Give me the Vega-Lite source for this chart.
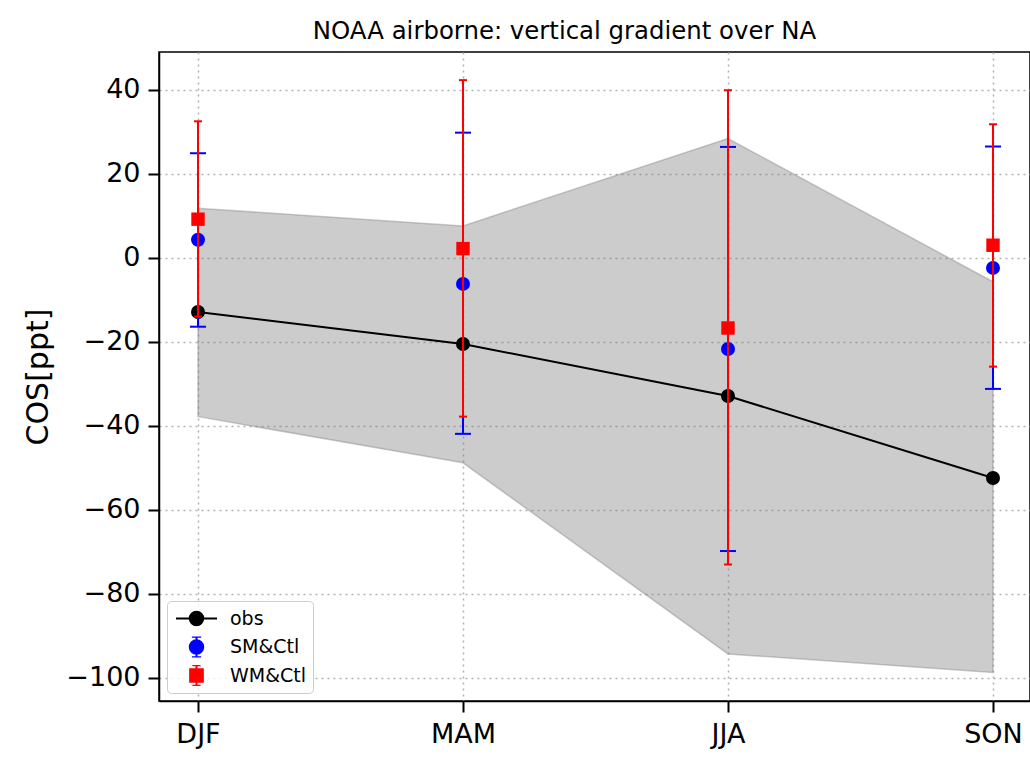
{
  "$schema": "https://vega.github.io/schema/vega-lite/v6.json",
  "width": 871,
  "height": 649,
  "autosize": {"type": "none"},
  "padding": {"left": 159, "top": 52, "right": 0, "bottom": 57},
  "background": "white",
  "title": {"text": "NOAA airborne: vertical gradient over NA", "fontSize": 24.4, "fontWeight": "normal", "color": "black", "dx": -30, "offset": 8},
  "config": {
    "font": "DejaVu Sans",
    "view": {"stroke": "black", "strokeWidth": 1.5},
    "axis": {"labelFontSize": 27, "labelColor": "black", "tickColor": "black", "tickSize": 11, "tickWidth": 2, "domainColor": "black", "domainWidth": 1.5, "gridColor": "#b0b0b0", "gridDash": [2, 4], "gridWidth": 1.5, "labelPadding": 8, "titleFontWeight": "normal", "titleColor": "black"},
    "legend": {"orient": "bottom-left", "offset": 8, "padding": 7, "fillColor": "rgba(255,255,255,0.8)", "strokeColor": "#cccccc", "cornerRadius": 4, "labelFontSize": 19, "labelColor": "black", "symbolSize": 420, "rowPadding": 7.5, "clipHeight": 21, "symbolOffset": 11, "labelOffset": 22, "symbolStrokeWidth": 2, "symbolOpacity": 1}
  },
  "datasets": {
    "band": [
      {"season": "DJF", "lo": -37.8, "hi": 11.8},
      {"season": "MAM", "lo": -48.8, "hi": 7.6},
      {"season": "JJA", "lo": -94.3, "hi": 28.4},
      {"season": "SON", "lo": -98.7, "hi": -5.7}
    ],
    "pts": [
      {"season": "DJF", "series": "obs", "v": -12.9},
      {"season": "MAM", "series": "obs", "v": -20.5},
      {"season": "JJA", "series": "obs", "v": -32.9},
      {"season": "SON", "series": "obs", "v": -52.4},
      {"season": "DJF", "series": "SM&Ctl", "v": 4.3, "lo": -16.4, "hi": 24.9},
      {"season": "MAM", "series": "SM&Ctl", "v": -6.2, "lo": -41.9, "hi": 29.8},
      {"season": "JJA", "series": "SM&Ctl", "v": -21.7, "lo": -69.8, "hi": 26.4},
      {"season": "SON", "series": "SM&Ctl", "v": -2.4, "lo": -31.2, "hi": 26.5},
      {"season": "DJF", "series": "WM&Ctl", "v": 9.2, "lo": -14.0, "hi": 32.5},
      {"season": "MAM", "series": "WM&Ctl", "v": 2.2, "lo": -37.8, "hi": 42.3},
      {"season": "JJA", "series": "WM&Ctl", "v": -16.7, "lo": -73.0, "hi": 39.9},
      {"season": "SON", "series": "WM&Ctl", "v": 3.0, "lo": -25.9, "hi": 31.8}
    ]
  },
  "encoding": {
    "x": {"field": "season", "type": "ordinal", "sort": ["DJF", "MAM", "JJA", "SON"],
      "scale": {"type": "point", "padding": 0.1434, "align": 0.5132},
      "axis": {"title": null, "labelAngle": 0, "grid": true, "labelPadding": 9}}
  },
  "layer": [
    {
      "data": {"name": "band"},
      "mark": {"type": "area", "fill": "#808080", "fillOpacity": 0.4, "stroke": "#808080", "strokeOpacity": 0.4, "strokeWidth": 1.5},
      "encoding": {
        "y": {"field": "lo", "type": "quantitative", "scale": {"domain": [-105.5, 49], "nice": false, "zero": false},
          "axis": {"title": "COS[ppt]", "titleFontSize": 30, "titlePadding": 12, "values": [-100, -80, -60, -40, -20, 0, 20, 40], "grid": true}},
        "y2": {"field": "hi"}
      }
    },
    {
      "data": {"name": "pts"},
      "transform": [{"filter": "datum.series === 'obs'"}],
      "mark": {"type": "line", "color": "black", "strokeWidth": 2},
      "encoding": {"y": {"field": "v", "type": "quantitative"}}
    },
    {
      "data": {"name": "pts"},
      "transform": [{"filter": "datum.series === 'obs'"}],
      "mark": {"type": "point", "shape": "circle", "filled": true, "opacity": 1, "size": 196, "color": "black"},
      "encoding": {"y": {"field": "v", "type": "quantitative"}}
    },
    {
      "data": {"name": "pts"},
      "transform": [{"filter": "datum.series === 'SM&Ctl'"}],
      "mark": {"type": "rule", "color": "blue", "strokeWidth": 2},
      "encoding": {"y": {"field": "lo", "type": "quantitative"}, "y2": {"field": "hi"}}
    },
    {
      "data": {"name": "pts"},
      "transform": [{"filter": "datum.series === 'SM&Ctl'"}, {"fold": ["lo", "hi"], "as": ["end", "ev"]}],
      "mark": {"type": "tick", "color": "blue", "size": 16, "thickness": 2, "opacity": 1},
      "encoding": {"y": {"field": "ev", "type": "quantitative"}}
    },
    {
      "data": {"name": "pts"},
      "transform": [{"filter": "datum.series === 'SM&Ctl'"}],
      "mark": {"type": "point", "shape": "circle", "filled": true, "opacity": 1, "size": 196, "color": "blue"},
      "encoding": {"y": {"field": "v", "type": "quantitative"}}
    },
    {
      "data": {"name": "pts"},
      "transform": [{"filter": "datum.series === 'WM&Ctl'"}],
      "mark": {"type": "rule", "color": "red", "strokeWidth": 2},
      "encoding": {"y": {"field": "lo", "type": "quantitative"}, "y2": {"field": "hi"}}
    },
    {
      "data": {"name": "pts"},
      "transform": [{"filter": "datum.series === 'WM&Ctl'"}, {"fold": ["lo", "hi"], "as": ["end", "ev"]}],
      "mark": {"type": "tick", "color": "red", "size": 8, "thickness": 2, "opacity": 1},
      "encoding": {"y": {"field": "ev", "type": "quantitative"}}
    },
    {
      "data": {"name": "pts"},
      "transform": [{"filter": "datum.series === 'WM&Ctl'"}],
      "mark": {"type": "point", "shape": "square", "filled": true, "opacity": 1, "size": 180, "color": "red"},
      "encoding": {"y": {"field": "v", "type": "quantitative"}}
    },
    {
      "data": {"name": "pts"},
      "mark": {"type": "point", "filled": true, "opacity": 0, "size": 420, "strokeWidth": 2},
      "encoding": {
        "y": {"field": "v", "type": "quantitative"},
        "fill": {"field": "series", "type": "nominal", "scale": {"domain": ["obs", "SM&Ctl", "WM&Ctl"], "range": ["black", "blue", "red"]}, "legend": {"title": null}},
        "stroke": {"field": "series", "type": "nominal", "scale": {"domain": ["obs", "SM&Ctl", "WM&Ctl"], "range": ["black", "blue", "red"]}, "legend": {"title": null}},
        "shape": {"field": "series", "type": "nominal", "scale": {"domain": ["obs", "SM&Ctl", "WM&Ctl"], "range": [
          "M-2,0L2,0M-0.66,0A0.66,0.66,0,1,1,0.66,0A0.66,0.66,0,1,1,-0.66,0Z",
          "M0,-1L0,1M-0.45,-1L0.45,-1M-0.45,1L0.45,1M-0.66,0A0.66,0.66,0,1,1,0.66,0A0.66,0.66,0,1,1,-0.66,0Z",
          "M0,-1L0,1M-0.4,-1L0.4,-1M-0.4,1L0.4,1M-0.62,-0.62L0.62,-0.62L0.62,0.62L-0.62,0.62Z"
        ]}, "legend": {"title": null}}
      }
    }
  ]
}
